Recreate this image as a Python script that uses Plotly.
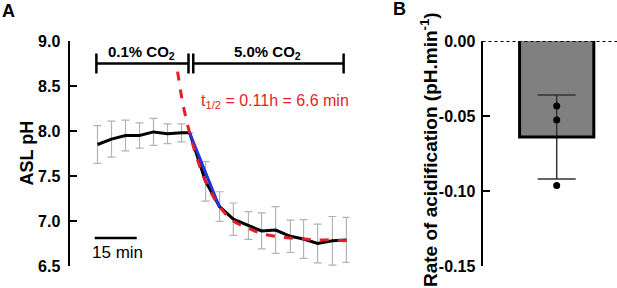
import plotly.graph_objects as go

# ---------------- Panel A data ----------------
time_min = [0, 5, 10, 15, 20, 25, 30, 32.9, 38.6, 43.6, 48.5, 53.9, 58.6, 63.6, 68.9, 73.6, 78.6, 83.9, 88.9]
ph_mean = [7.85, 7.91, 7.95, 7.95, 7.99, 7.97, 7.98, 7.98, 7.44, 7.16, 7.02, 6.95, 6.89, 6.90, 6.83, 6.80, 6.75, 6.78, 6.79]
ph_err = [0.21, 0.20, 0.17, 0.14, 0.15, 0.11, 0.10, 0.0, 0.22, 0.165, 0.18, 0.155, 0.20, 0.26, 0.18, 0.215, 0.215, 0.27, 0.25]

# fitted one-phase decay curve
fit_t = [28.6, 30.5, 32.9, 35.5, 38.6, 43.6, 48.5, 53.9, 58.6, 63.6, 68.9, 73.6, 78.6, 83.9, 88.9]
fit_ph = [8.66, 8.30, 7.98, 7.70, 7.44, 7.16, 7.00, 6.92, 6.86, 6.83, 6.81, 6.80, 6.79, 6.79, 6.78]

# initial-slope line (blue)
slope_t = [32.9, 43.6]
slope_ph = [7.98, 7.15]

ph_ticks = [6.5, 7.0, 7.5, 8.0, 8.5, 9.0]

# ---------------- Panel B data ----------------
rate_mean = [-0.064]
rate_sd = [0.028]
rate_points = [-0.0433, -0.0527, -0.0964]
rate_ticks = [0.0, -0.05, -0.10, -0.15]

FONT = "Liberation Sans, Arial, sans-serif"
RED = "#e41e26"
BLUE = "#2233dd"
W, H = 617, 288


def py(p):  # pixel row -> paper fraction
    return 1 - p / H


def px(p):
    return p / W


fig = go.Figure()

# Panel A traces
fig.add_trace(go.Scatter(
    x=time_min, y=ph_mean, mode="lines",
    line=dict(color="black", width=3),
    error_y=dict(type="data", array=ph_err, visible=True, color="#b3b3b3", thickness=1.2, width=4),
    xaxis="x", yaxis="y", showlegend=False, cliponaxis=False))
fig.add_trace(go.Scatter(
    x=slope_t, y=slope_ph, mode="lines",
    line=dict(color=BLUE, width=3),
    xaxis="x", yaxis="y", showlegend=False))
fig.add_trace(go.Scatter(
    x=fit_t, y=fit_ph, mode="lines",
    line=dict(color=RED, width=3, dash="dash", shape="spline"),
    xaxis="x", yaxis="y", showlegend=False))

# Panel B traces
BAR_W = 0.8
fig.add_trace(go.Bar(
    x=[0], y=rate_mean, width=BAR_W,
    marker=dict(color="#808080", line=dict(width=0)),
    error_y=dict(type="data", array=rate_sd, visible=True, color="#333333", thickness=1.5, width=19),
    xaxis="x2", yaxis="y2", showlegend=False))
fig.add_trace(go.Scatter(
    x=[-BAR_W / 2, -BAR_W / 2, BAR_W / 2, BAR_W / 2],
    y=[0, rate_mean[0], rate_mean[0], 0], mode="lines",
    line=dict(color="black", width=3),
    xaxis="x2", yaxis="y2", showlegend=False, cliponaxis=False))
fig.add_trace(go.Scatter(
    x=[0] * len(rate_points), y=rate_points, mode="markers",
    marker=dict(color="black", size=7),
    xaxis="x2", yaxis="y2", showlegend=False, cliponaxis=False))

tickfont = dict(family=FONT, size=16, color="black", weight="bold")

fig.update_layout(
    width=W, height=H,
    margin=dict(l=0, r=0, t=0, b=0, autoexpand=False),
    paper_bgcolor="white", plot_bgcolor="white",
    xaxis=dict(domain=[px(69.5), px(349.5)], range=[-10, 90], visible=False, automargin=False),
    yaxis=dict(domain=[py(266), py(41)], range=[6.5, 9.0], tickvals=ph_ticks,
               ticktext=[f"{v:.1f}" for v in ph_ticks], automargin=False,
               showline=True, linecolor="black", linewidth=2,
               ticks="inside", ticklen=7, tickwidth=2, tickcolor="black", ticklabelstandoff=4,
               showgrid=False, zeroline=False, tickfont=tickfont, anchor="x"),
    xaxis2=dict(domain=[px(482.5), 1.0], range=[-0.8, 0.65], visible=False, automargin=False),
    yaxis2=dict(domain=[py(266), py(41)], range=[-0.15, 0.0], tickvals=rate_ticks,
                ticktext=[f"{v:.2f}" for v in rate_ticks], automargin=False,
                showline=True, linecolor="black", linewidth=2,
                ticks="inside", ticklen=7, tickwidth=2, tickcolor="black", ticklabelstandoff=2,
                showgrid=False, zeroline=False, tickfont=tickfont, anchor="x2"),
)

shapes = []
# brackets
by = 8.75
bh = 0.11
lw = 2.5
for (x0, x1) in [(-0.4, 32.5), (34.2, 87.9)]:
    shapes.append(dict(type="line", xref="x", yref="y", x0=x0, x1=x1, y0=by, y1=by,
                       line=dict(color="black", width=lw)))
for xc in [-0.4, 32.5, 34.2, 87.9]:
    shapes.append(dict(type="line", xref="x", yref="y", x0=xc, x1=xc, y0=by - bh, y1=by + bh,
                       line=dict(color="black", width=lw)))
# scale bar
shapes.append(dict(type="line", xref="x", yref="y", x0=-1.0, x1=14.0, y0=6.81, y1=6.81,
                   line=dict(color="black", width=2.5)))
# dotted zero line panel B
shapes.append(dict(type="line", xref="x2 domain", yref="y2", x0=0, x1=1, y0=0, y1=0,
                   line=dict(color="black", width=2, dash="dot"), layer="above"))
fig.update_layout(shapes=shapes)

C = dict(xanchor="center", yanchor="middle", showarrow=False)
ann = []
ann.append(dict(text="0.1% CO<sub>2</sub>", x=15.6, y=by, xref="x", yref="y", xanchor="center",
                yanchor="bottom", showarrow=False,
                font=dict(family=FONT, size=15, color="black", weight="bold")))
ann.append(dict(text="5.0% CO<sub>2</sub>", x=60.7, y=by, xref="x", yref="y", xanchor="center",
                yanchor="bottom", showarrow=False,
                font=dict(family=FONT, size=15, color="black", weight="bold")))
ann.append(dict(text="t<sub>1/2</sub> = 0.11h = 6.6 min", x=63.4, y=8.33, xref="x", yref="y",
                font=dict(family=FONT, size=16, color=RED), **C))
ann.append(dict(text="15 min", x=7.1, y=6.645, xref="x", yref="y",
                font=dict(family=FONT, size=17, color="black"), **C))
ann.append(dict(text="ASL pH", x=px(26), y=py(153.5), xref="paper", yref="paper", textangle=-90,
                font=dict(family=FONT, size=18, color="black", weight="bold"), **C))
ann.append(dict(text="Rate of acidification (pH.min<sup>-1</sup>)", x=px(429), y=py(150),
                xref="paper", yref="paper", textangle=-90,
                font=dict(family=FONT, size=19, color="black", weight="bold"), **C))
ann.append(dict(text="A", x=px(8), y=py(11), xref="paper", yref="paper",
                font=dict(family=FONT, size=18, color="black", weight="bold"), **C))
ann.append(dict(text="B", x=px(399), y=py(9), xref="paper", yref="paper",
                font=dict(family=FONT, size=18, color="black", weight="bold"), **C))
fig.update_layout(annotations=ann)

fig.write_html("out.html", config={"displayModeBar": False},
               post_script="document.body.style.margin='0';")
